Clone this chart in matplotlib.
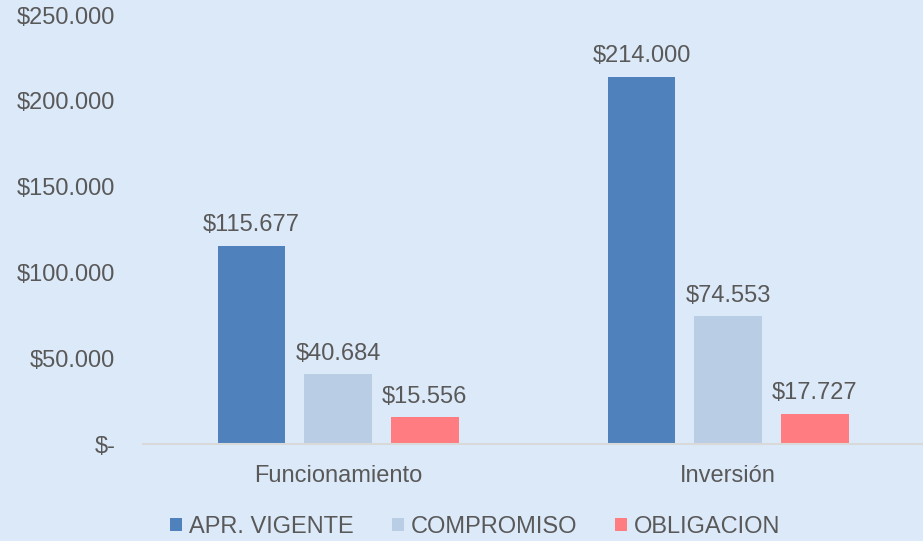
import numpy as np
import matplotlib.pyplot as plt
from matplotlib.patches import Patch

categories = ['Funcionamiento', 'Inversión']
series_names = ['APR. VIGENTE', 'COMPROMISO', 'OBLIGACION']
apr_vigente = [115677, 214000]
compromiso = [40684, 74553]
obligacion = [15556, 17727]
yticks = [0, 50000, 100000, 150000, 200000, 250000]
ytick_labels = ['$-', '$50.000', '$100.000', '$150.000', '$200.000', '$250.000']

colors = ['#4F81BD', '#B9CDE5', '#FF7C80']
bg = '#DCE9F9'
txt = '#595959'

plt.rcParams['font.family'] = ['Liberation Sans', 'DejaVu Sans']

fig = plt.figure(figsize=(9.23, 5.41), dpi=100, facecolor=bg)
ax = fig.add_axes([0.155, 0.179, 0.845, 0.793], facecolor=bg)

x = np.arange(len(categories))
width = 0.174
offset = 0.222
series = [apr_vigente, compromiso, obligacion]
for i, vals in enumerate(series):
    pos = x + (i - 1) * offset
    ax.bar(pos, vals, width, color=colors[i])
    for p, v in zip(pos, vals):
        lab = '$' + f'{v:,}'.replace(',', '.')
        ax.annotate(lab, (p, v), xytext=(0, 7), textcoords='offset points',
                    ha='center', va='bottom', fontsize=17, color=txt)

ax.set_xlim(-0.5, 1.5)
ax.set_ylim(0, 250000)
ax.set_yticks(yticks)
ax.set_yticklabels(ytick_labels)
ax.set_xticks(x)
ax.set_xticklabels(categories)
ax.tick_params(axis='both', length=0, labelsize=17, labelcolor=txt)
ax.tick_params(axis='y', pad=20)
ax.tick_params(axis='x', pad=15)
for s in ['top', 'right', 'left']:
    ax.spines[s].set_visible(False)
ax.spines['bottom'].set_color('#D9D9D9')
ax.spines['bottom'].set_linewidth(1.5)

handles = [Patch(facecolor=c, edgecolor='none') for c in colors]
leg = fig.legend(handles, series_names, loc='lower center', ncol=3,
                 bbox_to_anchor=(0.515, -0.034), frameon=False, fontsize=17,
                 handlelength=0.5, handleheight=0.5, handletextpad=0.3,
                 columnspacing=1.6)
for t in leg.get_texts():
    t.set_color(txt)

fig.savefig('out.png', dpi=100, facecolor=bg)
